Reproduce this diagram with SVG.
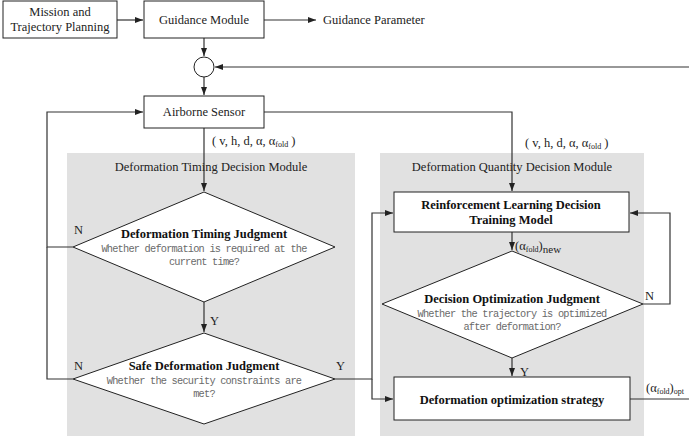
<svg xmlns="http://www.w3.org/2000/svg" width="689" height="438" viewBox="0 0 689 438">
<style>
.t{font-family:"Liberation Serif","Times New Roman",serif;font-size:12.5px;fill:#222}
.b{font-family:"Liberation Serif","Times New Roman",serif;font-size:12.5px;font-weight:bold;fill:#111}
.m{font-family:"Liberation Mono","Courier New",monospace;font-size:10.3px;letter-spacing:-0.78px;fill:#6a6a6a}
.box{fill:#fff;stroke:#222;stroke-width:1}
.panel{fill:#e1e1e1}
.c{fill:none;stroke:#333;stroke-width:1.2}
.sub{font-size:8px}
</style>
<defs>
<marker id="ah" markerUnits="userSpaceOnUse" markerWidth="9" markerHeight="7" refX="8" refY="3" orient="auto">
<path d="M0,0 L8,3 L0,6 z" fill="#222"/>
</marker>
</defs>
<rect class="panel" x="67" y="153" width="288" height="283"/>
<rect class="panel" x="380" y="153" width="264" height="283"/>
<text class="t" x="211" y="171" text-anchor="middle" fill="#333">Deformation Timing Decision Module</text>
<text class="t" x="512" y="171" text-anchor="middle" fill="#333">Deformation Quantity Decision Module</text>
<g id="connectors">
<line class="c" x1="117" y1="20" x2="143" y2="20" marker-end="url(#ah)"/>
<line class="c" x1="264" y1="20" x2="316" y2="20" marker-end="url(#ah)"/>
<line class="c" x1="204" y1="38" x2="204" y2="56" marker-end="url(#ah)"/>
<line class="c" x1="689" y1="67" x2="215" y2="67" marker-end="url(#ah)"/>
<line class="c" x1="204" y1="77" x2="204" y2="95" marker-end="url(#ah)"/>
<line class="c" x1="204" y1="128" x2="204" y2="191" marker-end="url(#ah)"/>
<path class="c" d="M264,112 H512 V191" marker-end="url(#ah)"/>
<path class="c" d="M73,247 H47 V112 H143" marker-end="url(#ah)"/>
<path class="c" d="M73,379 H47 V247"/>
<line class="c" x1="204" y1="302" x2="204" y2="332" marker-end="url(#ah)"/>
<path class="c" d="M335,379 H372 V213 H393" marker-end="url(#ah)"/>
<path class="c" d="M372,379 V399 H393" marker-end="url(#ah)"/>
<line class="c" x1="512" y1="232" x2="512" y2="250" marker-end="url(#ah)"/>
<path class="c" d="M643,304 H670 V213 H630" marker-end="url(#ah)"/>
<line class="c" x1="512" y1="358" x2="512" y2="376" marker-end="url(#ah)"/>
<line class="c" x1="630" y1="399" x2="689" y2="399"/>
</g>
<g id="labels">
<text class="t" x="323" y="24">Guidance Parameter</text>
<text class="t" x="212" y="145">( v, h, d, α, α<tspan class="sub" dy="2">fold</tspan><tspan dy="-2"> )</tspan></text>
<text class="t" x="525" y="147">( v, h, d, α, α<tspan class="sub" dy="2">fold</tspan><tspan dy="-2"> )</tspan></text>
<text class="t" x="515" y="250">(α<tspan class="sub" dy="2">fold</tspan><tspan dy="-2">)</tspan><tspan dy="3" font-size="11">new</tspan></text>
<text class="t" x="646" y="392">(α<tspan class="sub" dy="2">fold</tspan><tspan dy="-2">)</tspan><tspan class="sub" dy="2">opt</tspan></text>
<text class="t" x="74" y="234">N</text>
<text class="t" x="74" y="370">N</text>
<text class="t" x="210" y="325">Y</text>
<text class="t" x="336" y="370">Y</text>
<text class="t" x="520" y="376">Y</text>
<text class="t" x="645" y="300">N</text>
</g>
<g id="mission">
<rect class="box" x="3" y="1" width="114" height="37"/>
<text class="t" x="60" y="16" text-anchor="middle">Mission and</text>
<text class="t" x="60" y="31" text-anchor="middle">Trajectory Planning</text>
</g>
<g id="guidance">
<rect class="box" x="144" y="1" width="120" height="37"/>
<text class="t" x="204" y="24" text-anchor="middle">Guidance Module</text>
</g>
<g id="sum">
<circle cx="204" cy="67" r="10" fill="#fff" stroke="#222" stroke-width="1"/>
</g>
<g id="sensor">
<rect class="box" x="144" y="96" width="120" height="32"/>
<text class="t" x="204" y="116" text-anchor="middle">Airborne Sensor</text>
</g>
<g id="timing-judgment">
<polygon class="box" points="204,192 335,247 204,302 73,247"/>
<text class="b" x="204" y="238" text-anchor="middle">Deformation Timing Judgment</text>
<text class="m" x="204" y="252" text-anchor="middle">Whether deformation is required at the</text>
<text class="m" x="204" y="265" text-anchor="middle">current time?</text>
</g>
<g id="safe-judgment">
<polygon class="box" points="204,333 335,379 204,424 73,379"/>
<text class="b" x="204" y="370" text-anchor="middle">Safe Deformation Judgment</text>
<text class="m" x="204" y="384" text-anchor="middle">Whether the security constraints are</text>
<text class="m" x="204" y="397" text-anchor="middle">met?</text>
</g>
<g id="rl-model">
<rect class="box" x="394" y="192" width="235" height="40"/>
<text class="b" x="511" y="209" text-anchor="middle">Reinforcement Learning Decision</text>
<text class="b" x="511" y="224" text-anchor="middle">Training Model</text>
</g>
<g id="opt-judgment">
<polygon class="box" points="512,251 643,304 512,358 382,304"/>
<text class="b" x="512" y="303" text-anchor="middle">Decision Optimization Judgment</text>
<text class="m" x="512" y="317" text-anchor="middle">Whether the trajectory is optimized</text>
<text class="m" x="512" y="330" text-anchor="middle">after deformation?</text>
</g>
<g id="opt-strategy">
<rect class="box" x="394" y="377" width="236" height="43"/>
<text class="b" x="512" y="404" text-anchor="middle">Deformation optimization strategy</text>
</g>
</svg>
